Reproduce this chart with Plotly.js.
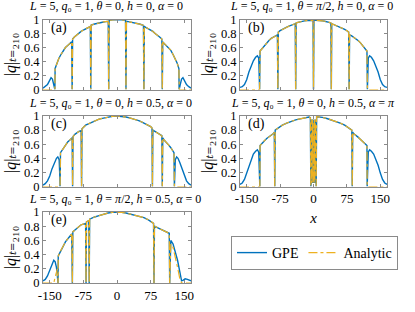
<!DOCTYPE html>
<html>
<head>
<meta charset="utf-8">
<script src="https://cdn.plot.ly/plotly-3.0.1.min.js"></script>
<style>html,body{margin:0;padding:0;background:#fff;}#chart{width:415px;height:312px;}</style>
</head>
<body>
<div id="chart"></div>
<script>
// ---------- data ----------
const xTickVals = [-150, -75, 0, 75, 150];
const xTickText = ["-150", "-75", "0", "75", "150"];
const yTickVals = [0, 0.2, 0.4, 0.6, 0.8, 1];
const yTickText = ["0", "0.2", "0.4", "0.6", "0.8", "1"];

const panelTitles = [
  "<i>L</i> = 5, <i>q</i>₀ = 1, <i>θ</i> = 0, <i>h</i> = 0, <i>α</i> = 0",
  "<i>L</i> = 5, <i>q</i>₀ = 1, <i>θ</i> = <i>π</i>/2, <i>h</i> = 0, <i>α</i> = 0",
  "<i>L</i> = 5, <i>q</i>₀ = 1, <i>θ</i> = 0, <i>h</i> = 0.5, <i>α</i> = 0",
  "<i>L</i> = 5, <i>q</i>₀ = 1, <i>θ</i> = 0, <i>h</i> = 0.5, <i>α</i> = <i>π</i>",
  "<i>L</i> = 5, <i>q</i>₀ = 1, <i>θ</i> = <i>π</i>/2, <i>h</i> = 0.5, <i>α</i> = 0"
];
const panelLabels = ["(a)", "(b)", "(c)", "(d)", "(e)"];
const seriesNames = ["GPE", "Analytic"];
const yTitle = "|<i>q</i>|<i>ₜ</i>₌₂₁₀";
const xTitle = "<i>x</i>";

// (a)
const xA = [-165,-160,-155,-151,-147,-144,-141,-139,-138.5,-138,-134,-130,-125,-120,-115,-110,-105,-101,-100,-99,-95,-90,-85,-80,-75,-70,-65,-59.5,-58.5,-57.5,-50,-45,-40,-35,-30,-25,-19.5,-18.5,-17.5,-10,-5,0,5,10,15,19,20,21,25,30,35,40,45,50,55,59,60,61,65,70,75,80,85,90,95,100,101,102,105,110,115,120,125,130,134,138,138.5,139,141,144,147,151,155,160,165];
const gpeA = [0.02,0.04,0.07,0.12,0.17,0.15,0.07,0.01,0,0.3,0.38,0.44,0.5,0.56,0.6,0.63,0.66,0.68,0,0.72,0.75,0.78,0.8,0.83,0.85,0.87,0.885,0.9,0,0.92,0.935,0.945,0.95,0.96,0.965,0.97,0.975,0,0.99,0.995,1,1,1,0.995,0.99,0.99,0,0.975,0.97,0.965,0.96,0.95,0.945,0.935,0.925,0.915,0,0.9,0.885,0.87,0.85,0.83,0.8,0.78,0.75,0.72,0,0.68,0.66,0.63,0.6,0.56,0.5,0.44,0.38,0.3,0,0.01,0.07,0.15,0.17,0.12,0.07,0.04,0.02];
const anaA = [0,0,0,0,0,0,0,0,0,0.3,0.38,0.44,0.5,0.56,0.6,0.63,0.66,0.68,0,0.72,0.75,0.78,0.8,0.83,0.85,0.87,0.885,0.9,0,0.92,0.935,0.945,0.95,0.96,0.965,0.97,0.975,0,0.99,0.995,1,1,1,0.995,0.99,0.99,0,0.975,0.97,0.965,0.96,0.95,0.945,0.935,0.925,0.915,0,0.9,0.885,0.87,0.85,0.83,0.8,0.78,0.75,0.72,0,0.68,0.66,0.63,0.6,0.56,0.5,0.44,0.38,0.3,0,0,0,0,0,0,0,0,0];

// (b)
const xB = [-165,-160,-155,-150,-145,-140,-135,-130,-126,-123,-121.5,-121,-120,-115,-110,-105,-100,-95,-90,-85,-81,-80,-79,-75,-70,-65,-60,-55,-50,-45,-41,-40,-39,-35,-30,-25,-20,-15,-10,-5,-1,0,1,5,10,15,20,25,30,35,39,40,41,45,50,55,60,65,70,75,79,80,81,85,90,95,100,105,110,115,120,121,121.5,123,126,130,135,140,145,150,155,160,165];
const gpeB = [0.03,0.04,0.07,0.14,0.25,0.34,0.41,0.46,0.48,0.45,0.2,0,0.55,0.59,0.63,0.67,0.7,0.73,0.75,0.77,0.78,0,0.82,0.84,0.86,0.875,0.89,0.905,0.915,0.93,0.94,0,0.95,0.96,0.97,0.975,0.98,0.985,0.99,0.99,0.99,0,0.99,0.99,0.99,0.985,0.98,0.975,0.97,0.96,0.95,0,0.94,0.93,0.915,0.905,0.89,0.875,0.86,0.84,0.82,0,0.78,0.77,0.75,0.73,0.7,0.67,0.63,0.59,0.55,0,0.2,0.45,0.48,0.46,0.41,0.34,0.25,0.14,0.07,0.04,0.03];
const anaB = [0,0,0,0,0,0,0,0,0,0,0,0,0.55,0.59,0.63,0.67,0.7,0.73,0.75,0.77,0.78,0,0.82,0.84,0.86,0.875,0.89,0.905,0.915,0.93,0.94,0,0.95,0.96,0.97,0.975,0.98,0.985,0.99,0.99,0.99,0,0.99,0.99,0.99,0.985,0.98,0.975,0.97,0.96,0.95,0,0.94,0.93,0.915,0.905,0.89,0.875,0.86,0.84,0.82,0,0.78,0.77,0.75,0.73,0.7,0.67,0.63,0.59,0.55,0,0,0,0,0,0,0,0,0,0,0,0];

// (c)
const xC = [-165,-160,-155,-150,-145,-140,-135,-132,-129,-127.5,-127,-126,-120,-115,-110,-105,-100,-99,-98,-94,-90,-85,-80,-79,-78,-75,-70,-60,-50,-40,-30,-20,-10,0,10,20,30,40,50,60,70,75,78,79,80,85,90,95,100,101,102,105,110,115,120,124,127,128,128.5,130,133,136,140,145,150,155,160,165];
const gpeC = [0.02,0.04,0.08,0.15,0.25,0.34,0.4,0.42,0.38,0.15,0,0.48,0.54,0.59,0.63,0.66,0.69,0,0.71,0.74,0.76,0.78,0.79,0,0.82,0.84,0.87,0.9,0.93,0.955,0.97,0.985,0.995,1,0.995,0.985,0.97,0.955,0.93,0.9,0.87,0.85,0.83,0,0.8,0.78,0.76,0.74,0.72,0,0.69,0.66,0.63,0.59,0.55,0.51,0.48,0,0.15,0.38,0.42,0.4,0.34,0.25,0.15,0.08,0.04,0.02];
const anaC = [0,0,0,0,0,0,0,0,0,0,0,0.48,0.54,0.59,0.63,0.66,0.69,0,0.71,0.74,0.76,0.78,0.79,0,0.82,0.84,0.87,0.9,0.93,0.955,0.97,0.985,0.995,1,0.995,0.985,0.97,0.955,0.93,0.9,0.87,0.85,0.83,0,0.8,0.78,0.76,0.74,0.72,0,0.69,0.66,0.63,0.59,0.55,0.51,0.48,0,0,0,0,0,0,0,0,0,0,0];

// (d)
const xD = [-165,-160,-155,-150,-145,-140,-135,-130,-126,-123,-121,-120.5,-120,-115,-110,-105,-100,-95,-90,-88,-87,-86,-80,-70,-60,-50,-40,-30,-20,-10,-7,-6,-5.25,-4.5,-3.75,-3,-2.25,-1.5,-0.75,0,0.75,1.5,2.25,3,3.75,4.5,5.25,6,7,10,20,30,40,50,60,70,80,86,87,88,90,95,100,105,110,115,120,120.5,121,123,126,130,135,140,145,150,155,160,165];
const gpeD = [0.03,0.05,0.1,0.19,0.3,0.39,0.46,0.5,0.52,0.49,0.25,0,0.58,0.62,0.65,0.68,0.7,0.73,0.75,0.77,0,0.8,0.83,0.87,0.9,0.925,0.945,0.96,0.975,0.985,0.975,0,0.9,0.1,0.95,0.05,0.9,0.1,0.95,0.05,0.95,0.1,0.9,0.05,0.95,0.1,0.9,0,0.99,0.99,0.98,0.965,0.945,0.925,0.9,0.87,0.83,0.8,0,0.77,0.75,0.73,0.7,0.67,0.64,0.61,0.58,0,0.25,0.49,0.52,0.5,0.46,0.39,0.3,0.19,0.1,0.05,0.03];
const anaD = [0,0,0,0,0,0,0,0,0,0,0,0,0.58,0.62,0.65,0.68,0.7,0.73,0.75,0.77,0,0.8,0.83,0.87,0.9,0.925,0.945,0.96,0.975,0.985,0.975,0,0.95,0.05,0.9,0.1,0.95,0.05,0.9,0.1,0.9,0.05,0.95,0.1,0.9,0.05,0.95,0,0.99,0.99,0.98,0.965,0.945,0.925,0.9,0.87,0.83,0.8,0,0.77,0.75,0.73,0.7,0.67,0.64,0.61,0.58,0,0,0,0,0,0,0,0,0,0,0,0];

// (e)
const xE = [-165,-160,-155,-150,-145,-141,-138,-135,-133,-131.5,-131,-125,-120,-115,-110,-105,-101,-99.5,-98.5,-95,-90,-85,-80,-75,-70,-69,-68,-63,-62,-61,-55,-50,-40,-30,-20,-10,0,10,20,30,40,50,60,70,75,80,81.5,82.5,83.5,90,100,110,115,116.5,117.5,118.5,120,125,130,135,140,144,148,152,157,160,165];
const gpeE = [0.03,0.05,0.1,0.17,0.26,0.32,0.3,0.22,0.1,0,0.38,0.46,0.53,0.58,0.62,0.66,0.69,0,0.72,0.74,0.77,0.8,0.82,0.83,0.84,0,0.86,0.88,0,0.9,0.92,0.93,0.95,0.97,0.985,0.995,1,0.995,0.985,0.97,0.955,0.94,0.92,0.89,0.87,0.85,0.84,0,0.8,0.78,0.75,0.72,0.71,0.7,0,0.58,0.6,0.55,0.45,0.32,0.16,0.03,0.04,0.06,0.05,0.04,0.03];
const anaE = [0,0,0,0,0,0,0.08,0.18,0.2,0,0.38,0.46,0.53,0.58,0.62,0.66,0.69,0,0.72,0.74,0.77,0.8,0.82,0.83,0.84,0,0.86,0.88,0,0.9,0.92,0.93,0.95,0.97,0.985,0.995,1,0.995,0.985,0.97,0.955,0.94,0.92,0.89,0.87,0.85,0.84,0,0.8,0.78,0.75,0.72,0.71,0.7,0,0.55,0.55,0.5,0.38,0.22,0.06,0,0,0,0,0,0];

// ---------- figure ----------
const W = 415, H = 312;
const FONT = "'Liberation Serif', 'DejaVu Serif', serif";
const BLUE = "#0072BD", YELLOW = "#EDB120", AXC = "#8a8a8a";

const xs = [xA, xB, xC, xD, xE];
const gs = [gpeA, gpeB, gpeC, gpeD, gpeE];
const as = [anaA, anaB, anaC, anaD, anaE];

// pixel boxes [left, right, top, bottom]
const boxes = [
  [43, 191, 19.5, 89.5],
  [240, 387, 19.5, 89.5],
  [43, 191, 116, 186.5],
  [240, 387, 116, 186.5],
  [43, 191, 212, 283]
];
const titleCx = [106.5, 311, 110, 312.5, 115];
const titleCy = [5.5, 5.5, 103, 103, 199];

const data = [];
const layout = {
  width: W, height: H,
  margin: {l: 0, r: 0, t: 0, b: 0},
  paper_bgcolor: "#fff", plot_bgcolor: "#fff",
  font: {family: FONT, size: 13, color: "#000"},
  showlegend: true,
  legend: {
    x: 314.5 / W, y: 1 - 236 / H, xanchor: "center", yanchor: "top",
    orientation: "h", bordercolor: AXC, borderwidth: 1, bgcolor: "#fff",
    font: {family: FONT, size: 14}, tracegroupgap: 0
  },
  annotations: []
};

for (let i = 0; i < 5; i++) {
  const n = i === 0 ? "" : String(i + 1);
  const xaName = "x" + n, yaName = "y" + n;
  const [l, r, t, b] = boxes[i];
  data.push({
    x: xs[i], y: gs[i], xaxis: xaName, yaxis: yaName, type: "scatter", mode: "lines",
    name: seriesNames[0], showlegend: i === 0, legendrank: 1,
    line: {color: BLUE, width: 1.4}
  });
  data.push({
    x: xs[i], y: as[i], xaxis: xaName, yaxis: yaName, type: "scatter", mode: "lines",
    name: seriesNames[1], showlegend: i === 0, legendrank: 2,
    line: {color: YELLOW, width: 1.2, dash: "dashdot"}
  });
  const showX = (i === 3 || i === 4);
  const xax = {
    domain: [l / W, r / W], anchor: yaName, range: [-165, 165],
    tickmode: "array", tickvals: xTickVals, ticktext: xTickText, showticklabels: showX,
    ticks: "inside", ticklen: 3, tickcolor: AXC, showline: true, mirror: "ticks",
    linecolor: AXC, linewidth: 1, showgrid: false, zeroline: false,
    tickfont: {family: FONT, size: 13}, fixedrange: true
  };
  if (i === 3) xax.title = {text: xTitle, font: {family: FONT, size: 15}, standoff: 7};
  layout["xaxis" + n] = xax;
  layout["yaxis" + n] = {
    domain: [1 - b / H, 1 - t / H], anchor: xaName, range: [0, 1],
    tickmode: "array", tickvals: yTickVals, ticktext: yTickText,
    ticks: "inside", ticklen: 3, tickcolor: AXC, showline: true, mirror: "ticks",
    linecolor: AXC, linewidth: 1, showgrid: false, zeroline: false,
    tickfont: {family: FONT, size: 12.5}, fixedrange: true,
    title: {text: yTitle, font: {family: FONT, size: 16}, standoff: 3}
  };
  layout.annotations.push({
    text: panelTitles[i], xref: "paper", yref: "paper",
    x: titleCx[i] / W, y: 1 - titleCy[i] / H, xanchor: "center", yanchor: "middle",
    showarrow: false, borderpad: 0, font: {family: FONT, size: 12}
  });
  layout.annotations.push({
    text: panelLabels[i], xref: "paper", yref: "paper",
    x: (l + 6) / W, y: 1 - (t + 8) / H, xanchor: "left", yanchor: "middle",
    showarrow: false, font: {family: FONT, size: 14}
  });
}

Plotly.newPlot("chart", data, layout, {displayModeBar: false, staticPlot: true});
</script>
</body>
</html>
